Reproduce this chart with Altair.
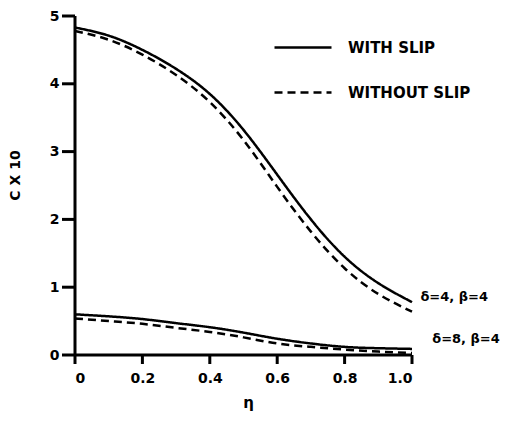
import altair as alt
import pandas as pd

# eta positions
eta = [0.0, 0.1, 0.2, 0.3, 0.4, 0.5, 0.6, 0.7, 0.8, 0.9, 1.0]

# delta=4, beta=4
upper_with = [4.83, 4.71, 4.50, 4.22, 3.85, 3.32, 2.66, 2.00, 1.45, 1.06, 0.78]
upper_without = [4.78, 4.65, 4.43, 4.13, 3.73, 3.17, 2.48, 1.82, 1.28, 0.90, 0.64]

# delta=8, beta=4
lower_with = [0.60, 0.57, 0.53, 0.47, 0.41, 0.33, 0.24, 0.17, 0.12, 0.10, 0.09]
lower_without = [0.54, 0.50, 0.46, 0.40, 0.34, 0.26, 0.17, 0.12, 0.08, 0.05, 0.03]

series_names = ["WITH SLIP", "WITHOUT SLIP"]
case_names = ["δ=4, β=4", "δ=8, β=4"]

# curve annotations
label_text = ["δ=4, β=4", "δ=8, β=4"]
label_eta = [1.025, 1.06]
label_c = [0.85, 0.23]

x_ticks = [0, 0.2, 0.4, 0.6, 0.8, 1.0]
y_ticks = [0, 1, 2, 3, 4, 5]
x_domain = [0, 1]
y_domain = [0, 5]

W, H = 337, 339
X_TICK_PX, Y_TICK_PX = 9, 13

rows = []
for case, w, wo in [(case_names[0], upper_with, upper_without),
                    (case_names[1], lower_with, lower_without)]:
    for e, a, b in zip(eta, w, wo):
        rows.append({"eta": e, "c": a, "slip": series_names[0], "case": case})
        rows.append({"eta": e, "c": b, "slip": series_names[1], "case": case})
df = pd.DataFrame(rows)

lab_df = pd.DataFrame({"eta": label_eta, "c": label_c, "text": label_text})

# axis frame and tick strokes, built from the axis domains and tick values
seg = []
seg += [{"eta": x_domain[0], "c": y_domain[0], "id": "xaxis"},
        {"eta": x_domain[1], "c": y_domain[0], "id": "xaxis"},
        {"eta": x_domain[0], "c": y_domain[0], "id": "yaxis"},
        {"eta": x_domain[0], "c": y_domain[1], "id": "yaxis"}]
dy = X_TICK_PX / H * (y_domain[1] - y_domain[0])
dx = Y_TICK_PX / W * (x_domain[1] - x_domain[0])
for v in x_ticks:
    seg += [{"eta": v, "c": y_domain[0], "id": f"xt{v}"},
            {"eta": v, "c": y_domain[0] - dy, "id": f"xt{v}"}]
for v in y_ticks:
    seg += [{"eta": x_domain[0] - dx, "c": v, "id": f"yt{v}"},
            {"eta": x_domain[0], "c": v, "id": f"yt{v}"}]
seg_df = pd.DataFrame(seg)

FONT = "DejaVu Sans"

xscale = alt.Scale(domain=x_domain)
yscale = alt.Scale(domain=y_domain)

axis_common = dict(domain=False, ticks=False, grid=False, labelFont=FONT,
                   labelFontSize=14, labelFontWeight="bold", labelColor="black",
                   titleFont=FONT, titleFontWeight="bold", titleColor="black")

lines = alt.Chart(df).mark_line(color="black", strokeWidth=2.5, interpolate="natural").encode(
    x=alt.X("eta:Q", scale=xscale,
            axis=alt.Axis(values=x_ticks, title="η",
                          labelExpr="datum.value == 0 ? '0' : format(datum.value, '.1f')",
                          titleX=173, titleY=47, titleBaseline="middle",
                          titleFontSize=15, labelPadding=16, **axis_common)),
    y=alt.Y("c:Q", scale=yscale,
            axis=alt.Axis(values=y_ticks, title="C X 10", format="d",
                          titleX=-60, titleY=159, titleBaseline="middle",
                          titleFontSize=14, labelPadding=16, **axis_common)),
    strokeDash=alt.StrokeDash(
        "slip:N",
        scale=alt.Scale(domain=series_names, range=[[1, 0], [8, 5]]),
        legend=alt.Legend(orient="none", legendX=198, legendY=10, title=None,
                          symbolType="stroke", symbolSize=3249, symbolStrokeWidth=2.5,
                          symbolStrokeColor="black", labelFontSize=15,
                          labelFontWeight="bold", labelFont=FONT, labelColor="black",
                          labelOffset=15, clipHeight=43, padding=0),
    ),
    detail="case:N",
)

frame = alt.Chart(seg_df).mark_line(color="black", strokeWidth=3).encode(
    x=alt.X("eta:Q", scale=xscale), y=alt.Y("c:Q", scale=yscale), detail="id:N",
    order="c:Q",
)

labels = alt.Chart(lab_df).mark_text(align="left", baseline="middle", fontSize=13,
                                     fontWeight="bold", font=FONT, color="black").encode(
    x="eta:Q", y="c:Q", text="text:N"
)

chart = (lines + frame + labels).properties(
    width=W, height=H,
    autosize=alt.AutoSizeParams(type="none"),
    padding={"left": 67, "top": 8, "right": 89, "bottom": 58},
).configure_view(stroke=None)

chart.save("out.html", embed_options={"renderer": "svg", "actions": False})
